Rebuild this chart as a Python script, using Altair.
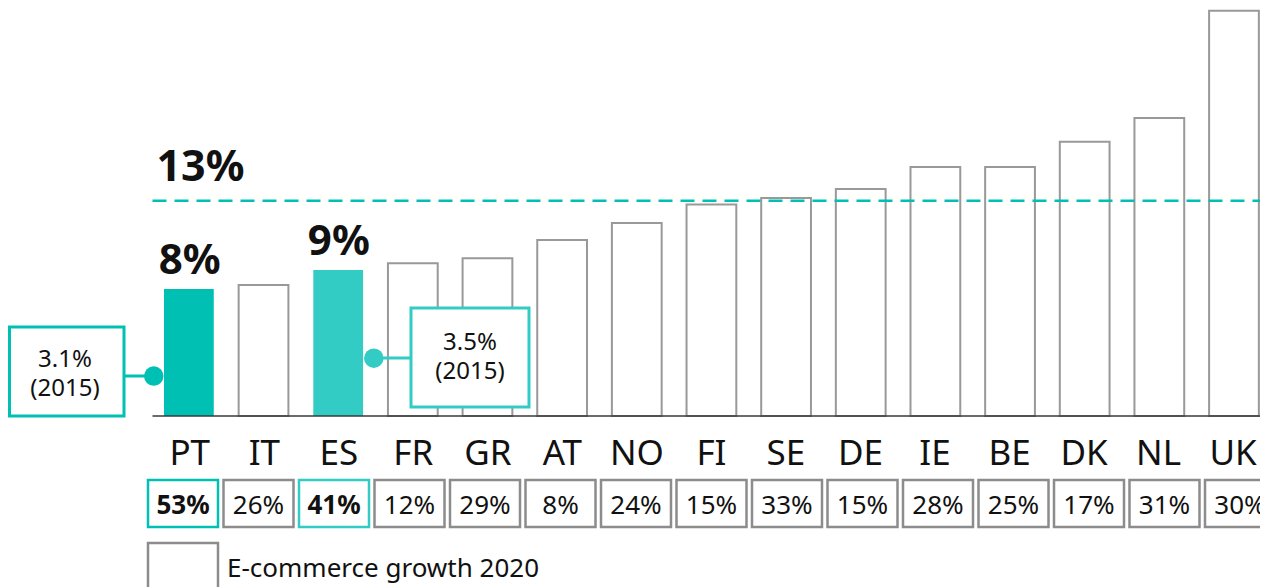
import altair as alt
import pandas as pd

# ---------------- data ----------------
countries = ["PT", "IT", "ES", "FR", "GR", "AT", "NO", "FI", "SE", "DE", "IE", "BE", "DK", "NL", "UK"]
share_2020 = [7.67, 7.91, 8.82, 9.22, 9.52, 10.63, 11.65, 12.78, 13.16, 13.71, 15.04, 15.04, 16.56, 18.0, 24.47]
growth_2020 = [53, 26, 41, 12, 29, 8, 24, 15, 33, 15, 28, 25, 17, 31, 30]
highlight = ["PT", "ES"]
bar_labels = {"PT": "8%", "ES": "9%"}
average_share = 13
average_label = "13%"
ann_countries = ["PT", "ES"]
ann_share_2015 = ["3.1%", "3.5%"]
ann_year = "(2015)"
ann_dot_value = [2.41, 3.49]
legend_label = "E-commerce growth 2020"

# ---------------- styles ----------------
TEAL = "#00BFB3"
TEAL_LIGHT = "#33CCC4"
GREY = "#999999"
BOX_GREY = "#8c8c8c"
INK = "#111111"
FONT = "Noto Sans"
hl_color = {"PT": TEAL, "ES": TEAL_LIGHT}

PAD_LEFT = 144.5
PLOT_W = 1107.5          # keeps the whole svg at 1252 px wide (page width minus margins)
STEP = 74.65
X_RANGE = STEP * (15 - 1 / 3 + 2 * 0.154)
BOX_STEP = 75.5
BOX_START = -7.25

df = pd.DataFrame({
    "country": countries,
    "value": share_2020,
    "growth": [f"{g}%" for g in growth_2020],
})
df["hl"] = df["country"].isin(highlight)
df["fill"] = [hl_color.get(c, "white") for c in countries]
df["stroke"] = [hl_color.get(c, GREY) for c in countries]
df["sw"] = [0 if c in highlight else 2 for c in countries]
df["boxstroke"] = [hl_color.get(c, BOX_GREY) for c in countries]
df["label"] = [bar_labels.get(c, "") for c in countries]

ann = pd.DataFrame({"country": ann_countries, "note": ann_share_2015, "dot": ann_dot_value})
one = pd.DataFrame({"k": [0]})

X = alt.X("country:N",
          scale=alt.Scale(domain=countries, range=[0, X_RANGE], paddingInner=1 / 3, paddingOuter=0.154),
          axis=None)
XB = alt.X("country:N",
           scale=alt.Scale(domain=countries, range=[BOX_START, BOX_START + 15 * BOX_STEP],
                           paddingInner=0, paddingOuter=0),
           axis=None)
Y_SCALE = alt.Scale(domain=[0, 24.64], nice=False, zero=True)

base = alt.Chart(df)

bars = base.mark_bar().encode(
    x=X,
    y=alt.Y("value:Q", scale=Y_SCALE, axis=None),
    fill=alt.Fill("fill:N", scale=None),
    stroke=alt.Stroke("stroke:N", scale=None),
    strokeWidth=alt.StrokeWidth("sw:Q", scale=None),
)

baseline = alt.Chart(one).mark_rule(color="#3a3a3a", strokeWidth=1.5).encode(
    y=alt.datum(0), x=alt.value(0), x2=alt.value(PLOT_W))

avg_rule = alt.Chart(one).mark_rule(color=TEAL, strokeWidth=2.5, strokeDash=[14, 8]).encode(
    y=alt.datum(average_share), x=alt.value(0), x2=alt.value(PLOT_W))

avg_text = alt.Chart(one).mark_text(
    align="left", baseline="alphabetic", fontSize=43, fontWeight="bold", color=INK, dy=-20
).encode(x=alt.value(4), y=alt.datum(average_share), text=alt.value(average_label))

value_labels = base.transform_filter("datum.label != ''").mark_text(
    baseline="alphabetic", fontSize=42, fontWeight="bold", color=INK, dy=-15
).encode(x=X, y=alt.Y("value:Q"), text="label:N")

country_labels = base.mark_text(baseline="alphabetic", fontSize=35, color=INK).encode(
    x=X, y=alt.value(457), text="country:N")

growth_boxes = base.mark_bar(width=70, fill="white", strokeWidth=2.5).encode(
    x=XB, y=alt.value(472), y2=alt.value(519), stroke=alt.Stroke("boxstroke:N", scale=None))

growth_text_plain = base.transform_filter("!datum.hl").mark_text(
    baseline="alphabetic", fontSize=26, color=INK
).encode(x=XB, y=alt.value(506), text="growth:N")

growth_text_bold = base.transform_filter("datum.hl").mark_text(
    baseline="alphabetic", fontSize=26, fontWeight="bold", color=INK
).encode(x=XB, y=alt.value(506), text="growth:N")

legend_box = alt.Chart(one).mark_rect(fill="white", stroke=BOX_GREY, strokeWidth=2.5).encode(
    x=alt.value(-4.5), x2=alt.value(65.5), y=alt.value(535), y2=alt.value(600))
legend_text = alt.Chart(one).mark_text(align="left", baseline="alphabetic", fontSize=26, color=INK).encode(
    x=alt.value(74.5), y=alt.value(569), text=alt.value(legend_label))


def annotation(i, color, bx0, bx1, by0, by1, cy, cx0, cx1, dot_off, tx, ty):
    d = ann.iloc[[i]]
    c = alt.Chart(d)
    conn = c.mark_rule(color=color, strokeWidth=3).encode(
        x=alt.value(cx0), x2=alt.value(cx1), y=alt.value(cy))
    box = c.mark_rect(fill="white", stroke=color, strokeWidth=3).encode(
        x=alt.value(bx0), x2=alt.value(bx1), y=alt.value(by0), y2=alt.value(by1))
    dot = c.mark_circle(size=380, opacity=1, color=color, xOffset=dot_off).encode(
        x=X, y=alt.Y("dot:Q"))
    txt = c.mark_text(baseline="alphabetic", fontSize=24, color=INK, lineHeight=29).encode(
        x=alt.value(tx), y=alt.value(ty), text=alt.value([ann_share_2015[i], ann_year]))
    return [conn, box, dot, txt]


# left (PT) annotation
pt_layers = annotation(0, TEAL, -143, -28.5, 319, 408, 368, -28.5, 1.5, -36, -87.5, 359)
# right (ES) annotation
es_layers = annotation(1, TEAL_LIGHT, 258.5, 376.5, 300, 399, 350, 222.5, 258.5, 35, 317.5, 342)

chart = alt.layer(
    bars, baseline, avg_rule, avg_text, value_labels, country_labels,
    growth_boxes, growth_text_plain, growth_text_bold, legend_box, legend_text,
    *pt_layers, *es_layers,
).resolve_scale(x="independent").properties(
    width=PLOT_W, height=408,
    autosize=alt.AutoSizeParams(type="none"),
    padding={"left": PAD_LEFT, "top": 0, "right": 0, "bottom": 182},
    background="white",
).configure_view(stroke=None).configure_text(font=FONT)

chart.save("out.html", embed_options={"renderer": "svg", "actions": False})
